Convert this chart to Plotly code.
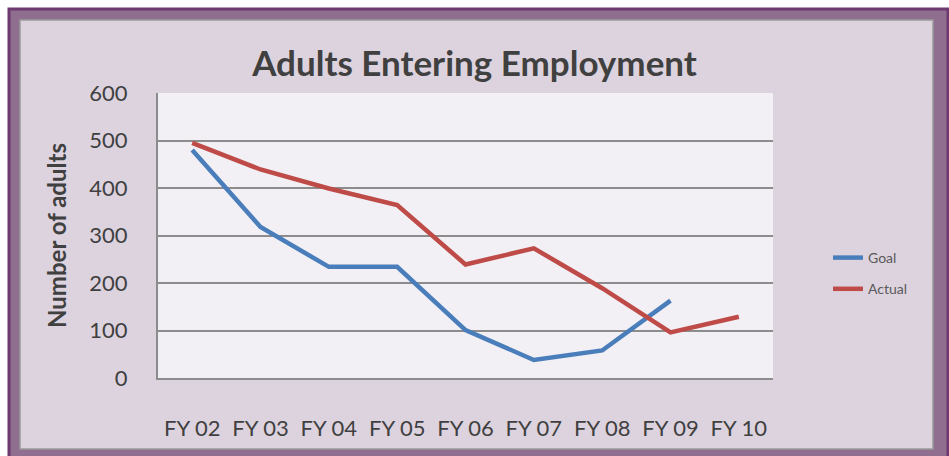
import plotly.graph_objects as go

# Fiscal years and series values
years = ["FY 02", "FY 03", "FY 04", "FY 05", "FY 06", "FY 07", "FY 08", "FY 09", "FY 10"]
goal = [480, 318, 234, 234, 101, 38, 58, 163, None]
actual = [495, 439, 399, 364, 239, 273, 189, 96, 129]
y_ticks = [0, 100, 200, 300, 400, 500, 600]

W, H = 949, 456
L, R, T, B = 158, 773, 93, 378  # plot area in pixels
FONT = "Lato, 'Open Sans', sans-serif"
TEXT = "#404040"


def px(x):
    return (x - L) / (R - L)


def py(y):
    return (B - y) / (B - T)


fig = go.Figure()
fig.add_trace(go.Scatter(x=years, y=goal, name="Goal", mode="lines",
                         line=dict(color="#4a7ebb", width=4.5), legendgroup="g"))
fig.add_trace(go.Scatter(x=years, y=actual, name="Actual", mode="lines",
                         line=dict(color="#be4b48", width=4.5), legendgroup="a"))

# Frame: purple outer band, grey rule, lavender panel, pale plot panel
shapes = [
    dict(type="rect", xref="paper", yref="paper", layer="below",
         x0=px(9), x1=px(948), y0=py(9), y1=py(458),
         fillcolor="#8f6e90", line=dict(color="#6c3a6e", width=3)),
    dict(type="rect", xref="paper", yref="paper", layer="below",
         x0=px(20), x1=px(933), y0=py(20), y1=py(449),
         fillcolor="#ddd3df", line=dict(color="#9a9a9a", width=1.5)),
    dict(type="rect", xref="paper", yref="paper", layer="below",
         x0=0, x1=1, y0=0, y1=1,
         fillcolor="#f2f0f4", line=dict(width=0)),
]

fig.update_layout(
    width=W, height=H,
    margin=dict(l=L, r=W - R, t=T, b=H - B, pad=0),
    paper_bgcolor="white",
    plot_bgcolor="#f2f0f4",
    shapes=shapes,
    title=dict(text="<b>Adults Entering Employment</b>", x=0.5, xref="container",
               xanchor="center", y=1 - 64 / H, yref="container", yanchor="middle",
               font=dict(family=FONT, size=35, color=TEXT)),
    font=dict(family=FONT, color=TEXT),
    showlegend=True,
    legend=dict(x=px(828), y=py(242), xanchor="left", yanchor="top",
                bgcolor="rgba(0,0,0,0)", traceorder="grouped", tracegroupgap=10,
                font=dict(family=FONT, size=14, color="#595959")),
    xaxis=dict(type="category", range=[-0.5, 8.5], showgrid=False,
               showline=True, linecolor="#8c8c8c", linewidth=2,
               ticks="outside", ticklen=30, tickcolor="rgba(0,0,0,0)",
               tickfont=dict(family=FONT, size=22, color=TEXT)),
    yaxis=dict(range=[0, 600], tickvals=y_ticks, showgrid=True,
               gridcolor="#8c8c8c", gridwidth=2, zeroline=False,
               showline=True, linecolor="#8c8c8c", linewidth=2,
               ticks="outside", ticklen=24, tickcolor="rgba(0,0,0,0)",
               tickfont=dict(family=FONT, size=22, color=TEXT),
               title=dict(text="<b>Number of adults</b>", standoff=16,
                          font=dict(family=FONT, size=24, color=TEXT))),
)

fig.write_html("out.html")
